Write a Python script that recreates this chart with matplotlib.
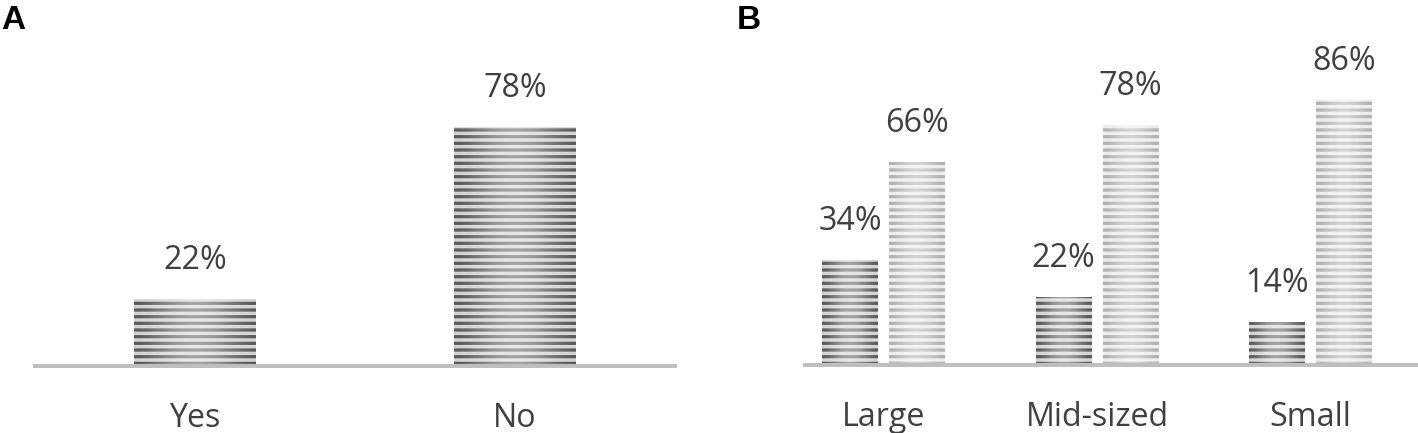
import numpy as np
import matplotlib
matplotlib.use("Agg")
import matplotlib.pyplot as plt

# Panel A data
a_labels = ["Yes", "No"]
a_values = [22, 78]

# Panel B data (dark = yes, light = no)
b_labels = ["Large", "Mid-sized", "Small"]
b_dark = [34, 22, 14]
b_light = [66, 78, 86]

DPI = 80
W, H = 1418, 433
px = 72.0 / DPI  # points per pixel

plt.rcParams["font.family"] = ["Open Sans", "DejaVu Sans"]
plt.rcParams["hatch.linewidth"] = 3.2 * px

text_col = "#404040"
base_col = "#bfbfbf"
dark_face, dark_hatch = "#d4d4d4", "#5a5a5a"
light_face, light_hatch = "#ececec", "#b0b0b0"
fs = 29

fig = plt.figure(figsize=(W / DPI, H / DPI), dpi=DPI)

# white sheen, light in the middle of each bar
sheen = np.zeros((1, 64, 4))
sheen[..., :3] = 1.0
sheen[..., 3] = 0.45 * np.sin(np.linspace(0, np.pi, 64)) ** 1.5


def setup(ax):
    for s in ["top", "right", "left"]:
        ax.spines[s].set_visible(False)
    ax.spines["bottom"].set_color(base_col)
    ax.spines["bottom"].set_linewidth(4 * px)
    ax.set_yticks([])
    ax.set_ylim(0, 100)
    ax.tick_params(axis="x", length=0, pad=36 * px, labelsize=fs, labelcolor=text_col)
    ax.patch.set_alpha(0)


def shade(ax, bars):
    for b in bars:
        x0, y0 = b.get_x(), b.get_y()
        ax.imshow(sheen, extent=(x0, x0 + b.get_width(), y0, y0 + b.get_height()),
                  aspect="auto", interpolation="bilinear", zorder=2.5)


def bar_labels(ax, xs, vals):
    for x, v in zip(xs, vals):
        ax.annotate(f"{v}%", (x, v), xytext=(0, 30 * px), textcoords="offset points",
                    ha="center", va="baseline", fontsize=fs, color=text_col)


# Panel A
axA = fig.add_axes([35 / W, (H - 366) / H, 640 / W, 306 / H])
setup(axA)
xa = np.arange(len(a_labels))
bA = axA.bar(xa, a_values, width=0.38, color=dark_face, edgecolor=dark_hatch,
             hatch="--", linewidth=0)
shade(axA, bA)
bar_labels(axA, xa, a_values)
axA.set_xlim(-0.5, 1.5)
axA.set_ylim(0, 100)
axA.set_xticks(xa, a_labels)

# Panel B
axB = fig.add_axes([805 / W, (H - 365) / H, 613 / W, 308 / H])
setup(axB)
xb = np.arange(len(b_labels))
off, bw = 0.157, 0.262
bD = axB.bar(xb - off, b_dark, width=bw, color=dark_face, edgecolor=dark_hatch,
             hatch="--", linewidth=0)
bL = axB.bar(xb + off, b_light, width=bw, color=light_face, edgecolor=light_hatch,
             hatch="--", linewidth=0)
shade(axB, bD)
shade(axB, bL)
bar_labels(axB, xb - off, b_dark)
bar_labels(axB, xb + off, b_light)
axB.set_xlim(-0.368, 2.503)
axB.set_ylim(0, 100)
axB.set_xticks(xb, b_labels)

fig.text(1 / W, 1 - 29 / H, "A", fontsize=30, fontweight="bold",
         family="Liberation Sans", color="black", va="baseline")
fig.text(737 / W, 1 - 29 / H, "B", fontsize=30, fontweight="bold",
         family="Liberation Sans", color="black", va="baseline")

fig.savefig("out.png", dpi=DPI)
